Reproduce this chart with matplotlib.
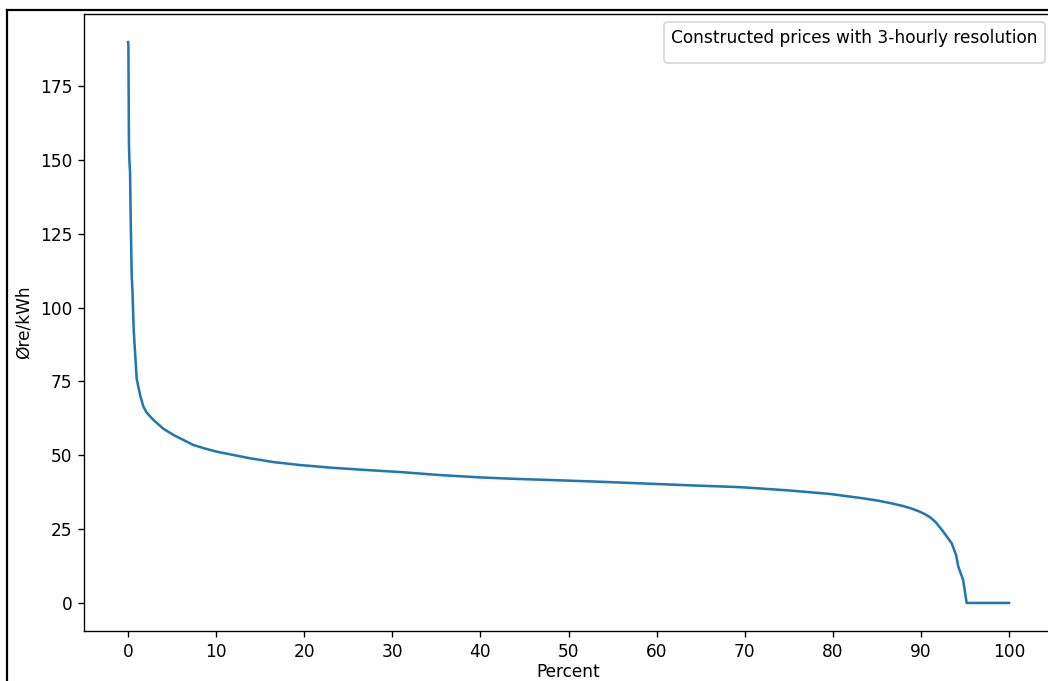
import matplotlib.pyplot as plt
from matplotlib.lines import Line2D

# duration curve: share of time (%) vs price
percent = [0.0, 0.04, 0.10, 0.15, 0.23, 0.30, 0.42, 0.50, 0.57, 0.65, 0.80,
           0.98, 1.17, 1.40, 1.74, 2.10, 2.87, 4.0, 5.14, 6.2, 7.4, 8.7,
           10.1, 13.8, 16.5, 19.5, 23.0, 27.1, 31.0, 35.4, 40.0, 44.0, 48.2,
           53.0, 58.1, 64.0, 69.5, 75.0, 79.7, 83.5, 85.2, 86.7, 88.0, 89.0,
           89.8, 90.5, 91.1, 91.7, 92.5, 93.5, 94.0, 94.25, 94.8, 95.0, 95.2,
           100.0]
price = [189.9, 189.0, 156.0, 150.0, 145.6, 130.0, 110.5, 106.0, 99.0, 92.0,
         84.6, 76.0, 73.2, 70.0, 66.5, 64.5, 62.0, 59.0, 56.9, 55.3, 53.5,
         52.3, 51.2, 49.0, 47.7, 46.7, 45.8, 45.0, 44.3, 43.3, 42.5, 42.0,
         41.6, 41.1, 40.5, 39.8, 39.2, 38.1, 36.9, 35.4, 34.6, 33.7, 32.8,
         31.9, 31.0, 30.0, 28.9, 27.3, 24.3, 20.2, 16.2, 12.3, 7.8, 3.8, 0.0,
         0.0]

legend_title = "Constructed prices with 3-hourly resolution"


def main():
    dpi = 122
    W, H = 1048, 681
    fig = plt.figure(figsize=(W / dpi, H / dpi), dpi=dpi)
    ax = fig.add_axes([84 / W, (H - 631) / H, (1053 - 84) / W, (631 - 14) / H])
    ax.plot(percent, price, color="C0", linewidth=1.5)
    ax.set_xticks(range(0, 101, 10))
    ax.set_yticks(range(0, 176, 25))
    ax.set_xlabel("Percent", labelpad=1.5)
    ax.set_ylabel("Øre/kWh")
    ax.legend(handles=[], title=legend_title, loc="upper right")

    # frame of the screenshot
    fig.add_artist(Line2D([7 / W, 7 / W], [0, 1 - 10 / H],
                          transform=fig.transFigure, color="black", lw=1.3))
    fig.add_artist(Line2D([7 / W, 1], [1 - 10 / H, 1 - 10 / H],
                          transform=fig.transFigure, color="black", lw=1.3))
    fig.savefig("out.png", dpi=dpi)


if __name__ == "__main__":
    main()
